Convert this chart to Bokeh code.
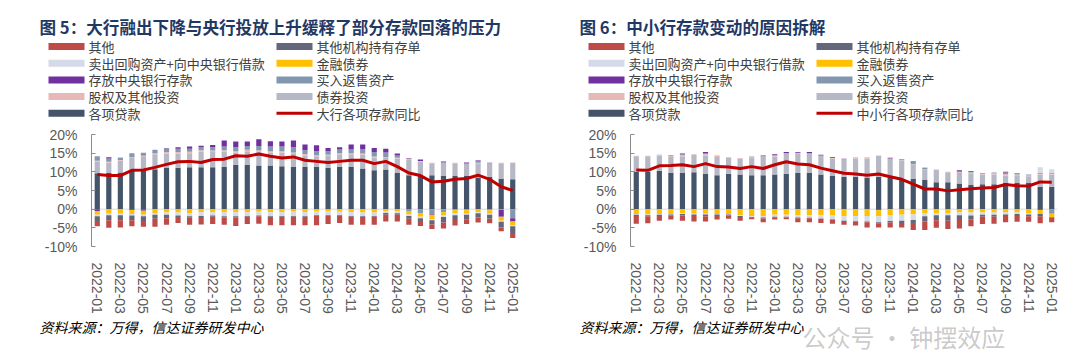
from bokeh.plotting import figure
from bokeh.models import (ColumnDataSource, Span, FixedTicker, PrintfTickFormatter, Range1d)
from bokeh.layouts import row, column
from bokeh.core.properties import value
from bokeh.embed import file_html
from bokeh.resources import INLINE

# ---------------- data ----------------
months = ["2022-01", "2022-02", "2022-03", "2022-04", "2022-05", "2022-06", "2022-07", "2022-08",
          "2022-09", "2022-10", "2022-11", "2022-12", "2023-01", "2023-02", "2023-03", "2023-04",
          "2023-05", "2023-06", "2023-07", "2023-08", "2023-09", "2023-10", "2023-11", "2023-12",
          "2024-01", "2024-02", "2024-03", "2024-04", "2024-05", "2024-06", "2024-07", "2024-08",
          "2024-09", "2024-10", "2024-11", "2024-12", "2025-01"]
y_ticks = [-10, -5, 0, 5, 10, 15, 20]

# Panel 1: large banks
big_loans = [9.6, 9.7, 9.8, 10.3, 10.4, 10.7, 11.0, 11.1, 11.2, 11.2, 11.2, 11.3, 11.8, 11.8, 11.7, 11.7, 11.5, 11.3, 11.3, 11.3,
             11.1, 11.3, 11.3, 10.9, 10.4, 10.6, 9.7, 9.1, 9.1, 9.1, 8.9, 8.9, 8.9, 8.5, 8.7, 8.1, 8.0]
big_bonds = [3.1, 2.8, 3.2, 3.4, 3.6, 4.0, 3.9, 3.8, 3.8, 4.2, 4.1, 4.1, 3.4, 3.7, 3.7, 3.5, 3.7, 3.5, 3.1, 2.9,
             3.2, 3.4, 3.4, 3.7, 3.4, 3.1, 3.9, 4.3, 3.7, 3.2, 3.5, 3.4, 3.2, 3.8, 3.5, 4.2, 4.4]
big_equity = [0.3, 0.2, 0.2, 0.3, 0.3, 0.3, 0.4, 0.4, 0.4, 0.4, 0.4, 0.4, 0.4, 0.4, 0.4, 0.4, 0.4, 0.4, 0.4, 0.3,
              0.3, 0.3, 0.3, 0.3, 0.3, 0.3, 0.2, 0.2, 0.1, 0.1, 0.1, 0.1, 0.1, 0.1, 0.1, 0.1, 0.1]
big_reverse_repo = [1.2, 0.9, 0.5, 1.0, 0.8, 0.9, 1.0, 0.9, 0.8, 0.8, 0.9, 1.0, 1.0, 1.0, 1.1, 1.2, 1.2, 1.4, 1.0, 1.0,
                    0.9, 1.0, 1.0, 1.2, 1.2, 1.2, 0.6, -0.5, -1.0, -1.3, -0.8, -0.3, -0.3, 0.6, -0.3, -0.2, -2.4]
big_central = [-0.5, 0.3, 0.1, -0.2, -0.4, 0.0, 0.1, 0.4, 0.6, 0.4, 0.6, 1.6, 1.5, 1.2, 1.8, 1.4, 1.3, 1.8, 1.5, 1.6,
               0.9, 0.6, 1.3, 1.2, 1.1, 1.0, 0.5, 0.1, 0.4, -0.2, 0.3, 0.0, 0.3, 0.1, 0.1, -1.8, -0.9]
big_fin_bonds = [-1.0, -1.2, -1.2, -1.1, -1.1, -1.0, -0.9, -0.9, -1.0, -0.8, -0.8, -0.9, -0.8, -0.8, -0.7, -0.8, -0.8, -0.7, -0.8, -0.6,
                 -0.6, -0.7, -0.8, -0.9, -0.9, -0.5, -0.6, -0.9, -1.0, -1.2, -0.9, -0.8, -0.9, -0.8, -0.9, -1.1, -1.0]
big_repo = [-0.4, -0.4, -0.4, -0.4, -0.4, -0.5, -0.6, -0.8, -0.9, -1.0, -0.9, -1.0, -1.1, -1.0, -1.0, -1.1, -1.0, -1.1, -1.1, -1.0,
            -1.0, -0.9, -1.0, -1.0, -0.9, -0.5, -0.5, -0.4, -0.4, -0.3, -0.4, -0.5, -0.3, -0.3, -0.3, -0.3, -0.3]
big_cd = [-1.3, -1.4, -1.4, -1.3, -1.3, -1.1, -0.9, -0.4, -0.4, -0.3, -0.3, -0.3, -0.3, -0.2, -0.2, -0.2, -0.2, -0.2, -0.2, -0.2,
          -0.2, -0.2, -0.2, -0.2, -0.2, -0.5, -0.4, -0.8, -0.8, -1.1, -1.5, -1.3, -1.2, -1.1, -1.1, -1.5, -1.8]
big_other = [-1.4, -2.0, -1.9, -1.6, -1.5, -2.1, -1.8, -1.6, -1.9, -2.0, -2.0, -2.0, -2.3, -2.0, -2.0, -2.2, -2.3, -2.3, -2.2, -2.5,
             -2.2, -1.9, -2.2, -2.1, -2.2, -1.8, -1.8, -1.6, -1.3, -1.2, -1.6, -1.5, -1.3, -1.4, -1.2, -1.0, -1.3]
big_line = [9.3, 9.0, 9.0, 10.4, 10.5, 11.2, 12.0, 12.7, 12.8, 12.5, 13.3, 13.4, 14.3, 14.2, 14.8, 14.2, 13.7, 14.0, 13.1, 12.8,
            12.5, 12.8, 13.1, 13.1, 12.2, 12.8, 11.4, 9.7, 9.0, 7.3, 7.5, 8.0, 8.2, 9.1, 8.0, 6.0, 5.0]

# Panel 2: small and medium banks
small_loans = [10.0, 10.0, 10.3, 9.7, 9.7, 9.9, 9.4, 9.1, 9.5, 9.3, 9.1, 9.1, 9.3, 9.5, 9.7, 9.7, 9.3, 8.9, 8.7, 8.7,
               8.5, 8.7, 8.4, 7.8, 8.1, 7.8, 7.2, 7.2, 6.9, 6.5, 6.7, 6.7, 7.0, 7.0, 7.0, 6.0, 6.0]
small_bonds = [4.2, 4.2, 4.1, 4.3, 4.5, 4.6, 5.0, 4.9, 4.2, 4.2, 4.8, 5.0, 4.8, 5.4, 5.3, 5.2, 5.0, 4.7, 4.6, 4.9,
               5.1, 5.6, 5.1, 5.3, 3.8, 2.7, 3.3, 2.7, 2.8, 3.1, 2.6, 2.6, 2.0, 1.9, 1.8, 3.2, 3.3]
small_equity = [0.1, 0.1, 0.1, 0.3, 0.3, 0.2, 0.3, 0.3, 0.2, 0.2, 0.2, 0.1, 0.2, 0.1, 0.1, 0.1, 0.1, 0.1, 0.1, 0.1,
                0.1, 0.1, 0.1, 0.1, 0.1, 0.2, 0.1, 0.1, 0.2, 0.2, 0.2, 0.3, 0.4, 0.4, 0.3, 0.3, 0.3]
small_reverse_repo = [0.0, 0.0, 0.1, 0.2, 0.2, 0.0, 0.3, 0.1, 0.0, 0.0, 0.1, 0.0, 0.2, 0.0, 0.0, 0.0, 0.0, 0.1, 0.0, 0.0,
                      0.0, 0.0, 0.0, 0.0, 0.9, 0.3, 0.0, 0.0, 0.3, 0.2, 0.2, 0.2, 0.4, 0.2, 0.2, 0.2, -1.2]
small_central = [0.0, 0.0, 0.0, 0.0, 0.2, 0.0, 0.3, 0.0, 0.0, 0.0, 0.0, 0.2, 0.2, 0.3, 0.2, 0.3, 0.2, 0.2, 0.1, 0.1,
                 0.1, -0.3, 0.2, 0.1, 0.0, 0.1, 0.0, 0.0, 0.2, 0.2, 0.0, 0.0, 0.2, 0.1, 0.0, -0.2, 0.1]
small_fin_bonds = [-1.3, -1.4, -1.3, -1.3, -1.1, -1.2, -1.2, -1.3, -1.3, -1.6, -1.8, -1.8, -1.5, -1.5, -1.6, -1.6, -1.6, -1.7, -1.9, -1.9,
                   -1.8, -1.6, -1.6, -1.5, -1.4, -1.0, -1.0, -1.0, -0.9, -0.9, -0.9, -0.9, -0.9, -0.9, -1.0, -1.1, -0.9]
small_repo = [-0.2, -0.2, -0.2, -0.1, -0.2, -0.2, -0.2, -0.1, -0.1, -0.2, -0.3, -0.4, -0.5, -0.5, -0.6, -0.7, -0.9, -1.0, -1.2, -1.3,
              -1.5, -1.6, -1.6, -1.6, -1.5, -0.9, -0.6, -0.6, -0.7, -0.8, -0.6, -0.6, -0.5, -0.4, -0.4, 1.5, 1.0]
small_cd = [-0.3, -0.3, -0.3, -0.3, -0.4, -0.4, -0.5, -0.4, -0.3, -0.3, -0.2, -0.3, -0.3, -0.2, -0.2, -0.1, -0.1, -0.1, -0.1, -0.1,
            -0.2, -0.3, -0.4, -0.6, -0.8, -1.4, -1.4, -1.5, -1.3, -1.0, -0.5, -0.5, -0.4, -0.5, -0.5, -0.6, -0.1]
small_other = [-2.1, -1.9, -1.3, -1.1, -1.4, -1.5, -1.4, -1.0, -0.9, -1.0, -0.4, -1.0, -0.5, -0.5, -1.1, -1.1, -1.1, -1.1, -1.0, -1.1,
               -1.4, -1.1, -1.3, -1.2, -1.9, -2.3, -2.0, -2.2, -2.3, -1.9, -2.0, -1.9, -1.7, -1.6, -1.5, -1.9, -1.3]
small_line = [10.5, 10.4, 11.6, 11.7, 11.9, 11.4, 12.2, 11.4, 11.3, 10.9, 11.4, 10.9, 11.9, 12.7, 12.1, 11.9, 11.0, 10.3, 9.6, 9.4,
              9.1, 9.4, 8.7, 8.0, 6.7, 5.4, 5.4, 4.9, 5.2, 5.5, 5.7, 5.8, 6.6, 6.3, 6.2, 7.3, 7.2]

# ---------------- styling ----------------
N_OTHER, N_CD, N_REPO, N_FIN = "其他", "其他机构持有存单", "卖出回购资产+向中央银行借款", "金融债券"
N_CB, N_RR, N_EQ, N_BOND, N_LOAN = "存放中央银行存款", "买入返售资产", "股权及其他投资", "债券投资", "各项贷款"

colors = {N_OTHER: "#BE4B48", N_CD: "#64677A", N_REPO: "#D5DAE7", N_FIN: "#FFC000",
          N_CB: "#7030A0", N_RR: "#8497B0", N_EQ: "#E6B9B8", N_BOND: "#B6B8C5", N_LOAN: "#44546A"}
LINE_COLOR = "#C00000"
STACK_ORDER = [N_LOAN, N_BOND, N_EQ, N_RR, N_CB, N_FIN, N_REPO, N_CD, N_OTHER]
LEGEND_ORDER = [N_OTHER, N_CD, N_REPO, N_FIN, N_CB, N_RR, N_EQ, N_BOND, N_LOAN]

big_series = {N_LOAN: big_loans, N_BOND: big_bonds, N_EQ: big_equity, N_RR: big_reverse_repo, N_CB: big_central,
              N_FIN: big_fin_bonds, N_REPO: big_repo, N_CD: big_cd, N_OTHER: big_other}
small_series = {N_LOAN: small_loans, N_BOND: small_bonds, N_EQ: small_equity, N_RR: small_reverse_repo,
                N_CB: small_central, N_FIN: small_fin_bonds, N_REPO: small_repo, N_CD: small_cd, N_OTHER: small_other}

SOURCE = "资料来源：万得，信达证券研发中心"
CJK = "Noto Sans CJK SC"
LAT = "Liberation Sans"

W = 540
HEAD_H = 126        # header strip (title + legend)
CHART_H = 190       # chart strip (frame top 8px below strip top)
FOOT_H = 356 - HEAD_H - CHART_H
FW, FH = 427, 113


def blank_fig(h):
    f = figure(width=W, height=h, x_range=Range1d(0, W), y_range=Range1d(h, 0),
               x_axis_type=None, y_axis_type=None, output_backend="svg", toolbar_location=None,
               min_border=0, frame_align=False)
    f.min_border_left = f.min_border_right = f.min_border_top = f.min_border_bottom = 0
    f.title.visible = False
    f.outline_line_color = None
    f.xgrid.visible = False
    f.ygrid.visible = False
    f.background_fill_color = "white"
    f.border_fill_color = "white"
    return f


def make_header(title, line_name):
    h = blank_fig(HEAD_H)
    h.text(x=[39], y=[26], text=[title], text_font=value(CJK), text_font_style="bold",
           text_font_size="16.6px", text_color="#1F3864", text_baseline="middle", text_align="left")
    names = LEGEND_ORDER + [line_name]
    col_x = [48, 276]
    lx, ly, lt = [], [], []
    for k, nm in enumerate(names):
        cx = col_x[k % 2]
        cy = 46 + (k // 2) * 16.7
        if nm == line_name:
            h.segment(x0=[cx], y0=[cy], x1=[cx + 36], y1=[cy], line_color=LINE_COLOR, line_width=3)
        else:
            h.quad(left=[cx], right=[cx + 36], top=[cy - 3.5], bottom=[cy + 3.5],
                   fill_color=colors[nm], line_color=None)
        lx.append(cx + 40); ly.append(cy); lt.append(nm)
    h.text(x=lx, y=ly, text=lt, text_font=value(CJK), text_font_size="13px", text_color="#404040",
           text_baseline="middle", text_align="left")
    return h


def make_footer(watermark=None):
    f = blank_fig(FOOT_H)
    if watermark:
        f.text(x=[262], y=[20], text=[watermark], text_font=value(CJK), text_font_size="24px",
               text_color="#8A8A8A", text_alpha=0.45, text_baseline="middle", text_align="left")
    f.text(x=[39], y=[10], text=[SOURCE], text_font=value(CJK), text_font_style="italic",
           text_font_size="14px", text_color="#000000", text_baseline="middle", text_align="left")
    return f


def make_chart(series, line_vals, fl):
    n = len(months)
    xs = list(range(n))
    top_b = 8
    p = figure(width=W, height=CHART_H, x_range=Range1d(-0.5, n - 0.5), y_range=Range1d(y_ticks[0], y_ticks[-1]),
               output_backend="svg", toolbar_location=None, frame_align=False,
               min_border_left=fl, min_border_right=W - fl - FW,
               min_border_top=top_b, min_border_bottom=CHART_H - top_b - FH)
    p.title.visible = False
    p.outline_line_color = None
    p.xgrid.visible = False
    p.ygrid.visible = False
    p.background_fill_color = "white"
    p.border_fill_color = "white"

    p.add_layout(Span(location=0, dimension="width", line_color="#D9D9D9", line_width=1, level="underlay"))

    pos = [0.0] * n
    neg = [0.0] * n
    for name in STACK_ORDER:
        vals = series[name]
        bots, tops = [], []
        for i, v in enumerate(vals):
            if v >= 0:
                bots.append(pos[i]); tops.append(pos[i] + v); pos[i] += v
            else:
                tops.append(neg[i]); bots.append(neg[i] + v); neg[i] += v
        src = ColumnDataSource(dict(x=xs, bottom=bots, top=tops))
        p.vbar(x="x", bottom="bottom", top="top", width=0.45, source=src,
               fill_color=colors[name], line_color=None)
    p.line(xs, line_vals, line_color=LINE_COLOR, line_width=3, line_join="round")

    ya = p.yaxis[0]
    ya.ticker = FixedTicker(ticks=y_ticks)
    ya.formatter = PrintfTickFormatter(format="%d%%")
    ya.axis_line_color = "#8C8C8C"
    ya.major_tick_line_color = "#8C8C8C"
    ya.major_tick_in = 4
    ya.major_tick_out = 0
    ya.minor_tick_line_color = None
    ya.major_label_standoff = 14
    ya.major_label_text_font = LAT
    ya.major_label_text_font_size = "14px"
    ya.major_label_text_color = "#595959"

    xa = p.xaxis[0]
    ticks = xs[::2]
    xa.ticker = FixedTicker(ticks=ticks)
    xa.major_label_overrides = {i: months[i] for i in ticks}
    xa.major_label_orientation = "vertical"
    xa.axis_line_color = None
    xa.major_tick_line_color = None
    xa.minor_tick_line_color = None
    xa.major_label_standoff = 10
    xa.major_label_text_font = LAT
    xa.major_label_text_font_size = "14px"
    xa.major_label_text_color = "#595959"
    return p


left = column(make_header("图 5：大行融出下降与央行投放上升缓释了部分存款回落的压力", "大行各项存款同比"),
              make_chart(big_series, big_line, 91),
              make_footer())
right = column(make_header("图 6：中小行存款变动的原因拆解", "中小行各项存款同比"),
               make_chart(small_series, small_line, 90),
               make_footer(watermark="公众号 · 钟摆效应"))

layout = row(left, right)
open("out.html", "w").write(file_html(layout, INLINE, title="存款变动"))
